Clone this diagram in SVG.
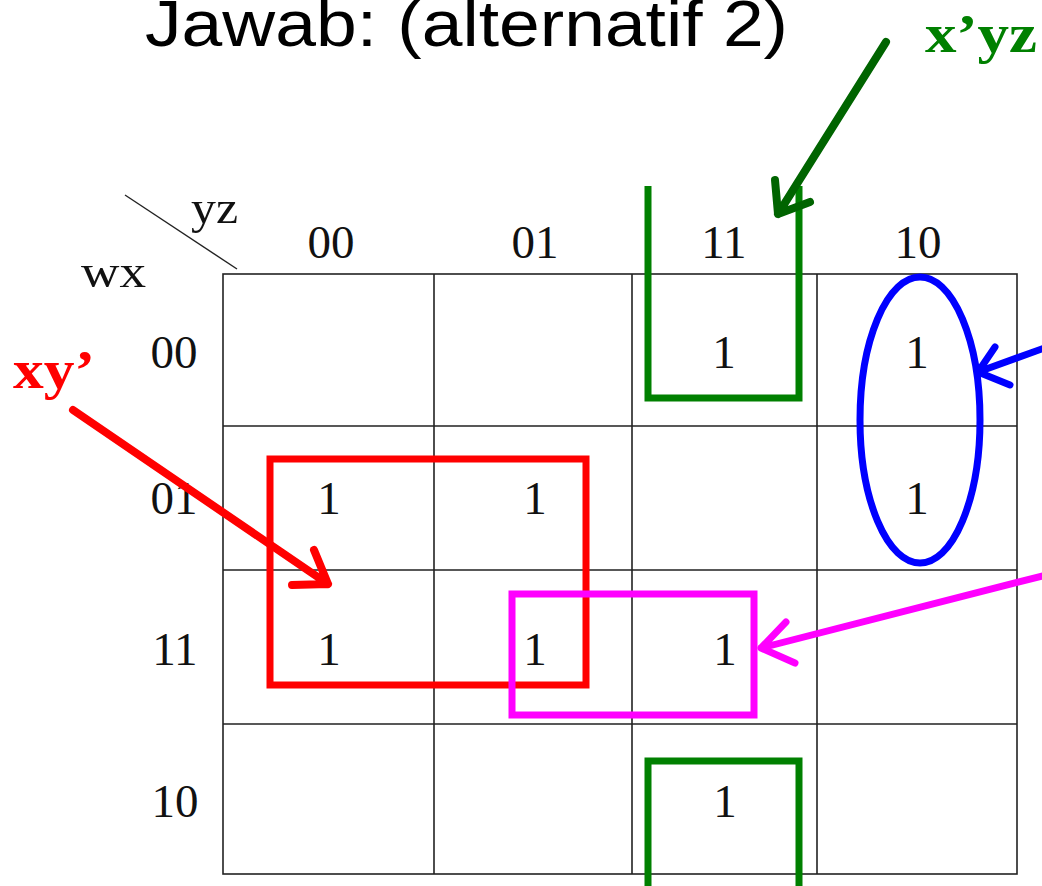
<svg xmlns="http://www.w3.org/2000/svg" width="1042" height="886" viewBox="0 0 1042 886">
  <style>
    .title { font-family: "Liberation Sans", Arial, sans-serif; font-size: 64px; fill: #000; }
    .lbl { font-family: "Liberation Serif", "Times New Roman", serif; font-size: 47px; fill: #111; }
    .mid { text-anchor: middle; }
    .term { font-family: "Liberation Serif", "Times New Roman", serif; font-size: 54px; font-weight: bold; }
    .grid { fill: none; stroke: #222; stroke-width: 1.6; }
    .grp { fill: none; stroke-width: 7; }
    .arr { fill: none; stroke-width: 8; stroke-linecap: round; stroke-linejoin: round; }
  </style>

  <rect width="1042" height="886" fill="#fff"/>

  <!-- heading -->
  <text class="title" x="145" y="46" textLength="643" lengthAdjust="spacingAndGlyphs">Jawab: (alternatif 2)</text>

  <!-- Karnaugh map grid -->
  <g id="kmap-grid" class="grid">
    <rect x="223" y="274" width="794" height="600"/>
    <path d="M434,274V874M632,274V874M817,274V874M223,426H1017M223,570H1017M223,724H1017"/>
    <path d="M125,195L237,269" stroke-width="1.4"/>
  </g>

  <!-- axis labels -->
  <g id="axis-labels" class="lbl">
    <text x="191" y="223" textLength="47" lengthAdjust="spacingAndGlyphs">yz</text>
    <text x="81" y="287" textLength="65" lengthAdjust="spacingAndGlyphs">wx</text>
    <g class="mid">
      <text x="331" y="258">00</text>
      <text x="535" y="258">01</text>
      <text x="724" y="258">11</text>
      <text x="918" y="258">10</text>
      <text x="174" y="368">00</text>
      <text x="174" y="514">01</text>
      <text x="175" y="665">11</text>
      <text x="175" y="817">10</text>
    </g>
  </g>

  <!-- minterm entries -->
  <g id="cells" class="lbl mid">
    <text x="724" y="368">1</text>
    <text x="917" y="368">1</text>
    <text x="329" y="514">1</text>
    <text x="535" y="514">1</text>
    <text x="917" y="514">1</text>
    <text x="329" y="665">1</text>
    <text x="535" y="665">1</text>
    <text x="725" y="665">1</text>
    <text x="725" y="817">1</text>
  </g>

  <!-- groupings -->
  <g id="group-xy" class="grp" stroke="#ff0000">
    <rect x="270" y="459" width="316" height="226"/>
  </g>
  <g id="group-magenta" class="grp" stroke="#ff00ff">
    <rect x="512" y="594" width="242" height="121"/>
  </g>
  <g id="group-blue" class="grp" stroke="#0000ff">
    <ellipse cx="920" cy="420" rx="60" ry="143"/>
  </g>
  <g id="group-xyz" class="grp" stroke="#008000">
    <path d="M648,186V398H799V186"/>
    <path d="M648,890V761H799V890"/>
  </g>

  <!-- term labels -->
  <g id="label-xy">
    <text class="term" x="13" y="388" fill="#ff0000" textLength="82" lengthAdjust="spacingAndGlyphs">xy’</text>
  </g>
  <g id="label-xyz">
    <text class="term" x="925" y="52" fill="#008000" textLength="112" lengthAdjust="spacingAndGlyphs">x’yz</text>
  </g>

  <!-- pointer arrows -->
  <g id="connectors" class="arr">
    <path stroke="#ff0000" d="M73,410L328,584M292,585L328,584L314,550"/>
    <path stroke="#006400" d="M886,42L778,214M775,180L778,214L810,202"/>
    <path stroke="#ff00ff" d="M1050,574L761,648M786,622L761,648L795,663" stroke-width="7"/>
    <path stroke="#0000ff" d="M1050,346L978,372M995,347L978,372L1010,385" stroke-width="7"/>
  </g>
</svg>
